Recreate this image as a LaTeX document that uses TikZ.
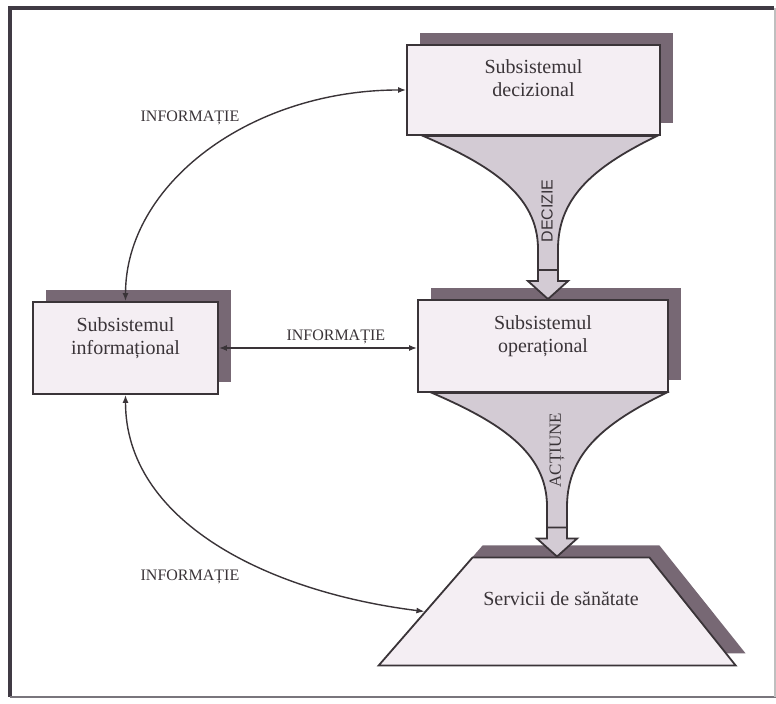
\documentclass[tikz,border=0pt]{standalone}
\usepackage{fontspec}
\setmainfont{Liberation Serif}
\newfontfamily\arialfont{Liberation Sans}
\usetikzlibrary{shapes.geometric,shadows,arrows.meta,calc}
\definecolor{boxcol}{HTML}{F4EEF3}
\definecolor{shadowcol}{HTML}{776874}
\definecolor{funnelcol}{HTML}{D3CBD4}
\definecolor{linecol}{HTML}{3A3438}
\definecolor{framecol}{HTML}{403A44}

\begin{document}
\begin{tikzpicture}[x=.5pt,y=.5pt,
    subsys/.style={draw=linecol,line width=.9pt,fill=boxcol,align=center,
      font=\fontsize{10}{11.5}\selectfont,text=linecol,
      text height=20pt,text depth=13.5pt,
      general shadow={fill=shadowcol,shadow xshift=6.5pt,shadow yshift=6pt}},
    info/.style={font=\fontsize{8}{9}\selectfont,text=linecol},
    conn/.style={draw=linecol,line width=.7pt,
      {Latex[length=4pt,width=3pt]}-{Latex[length=4pt,width=3pt]}},
    funnel/.style={draw=linecol,line width=.9pt,fill=funnelcol,to path={
      let \p1=(\tikztostart), \p2=(\tikztotarget) in
      (\x2-62.5pt,\y1) .. controls (\x2-29pt,\y1-14.5pt) and (\x2-5pt,\y1-29.5pt)
      .. (\x2-5pt,\y2+25pt) -- (\x2-5pt,\y2+9pt) -- (\x2-10pt,\y2+9pt) -- (\x2,\y2)
      -- (\x2+10pt,\y2+9pt) -- (\x2+5pt,\y2+9pt) -- (\x2+5pt,\y2+25pt)
      .. controls (\x2+5pt,\y1-29.5pt) and (\x2+25pt,\y1-14.5pt) .. (\x2+54.5pt,\y1) -- cycle
      (\x2-5pt,\y2+14.5pt) -- (\x2+5pt,\y2+14.5pt)}}]
  \useasboundingbox (0,0) rectangle (776,704);
  % frame
  \draw[line width=1.75pt,framecol] (774,696) -- (10,696) -- (10,7);
  \draw[line width=1pt,framecol!70] (10,7) -- (776,7);
  \draw[line width=.6pt,black!25] (775,696) -- (775,7);

  % the three subsystems and the services
  \node[subsys,minimum width=126.5pt,minimum height=45pt] (dec) at (533.5,614)
    {Subsistemul\\decizional};
  \node[subsys,minimum width=125pt,minimum height=46pt] (op) at (543,358)
    {Subsistemul\\operațional};
  \node[subsys,minimum width=92.5pt,minimum height=46pt] (inf) at (125.5,356)
    {Subsistemul\\informațional};
  \node[trapezium,trapezium left angle=49,trapezium right angle=51.4,
    trapezium stretches body,minimum width=178.5pt,inner ysep=17pt,
    draw=linecol,line width=.9pt,fill=boxcol,text=linecol,
    font=\fontsize{10}{11.5}\selectfont,text height=7pt,text depth=13pt,
    general shadow={fill=shadowcol,shadow xshift=5pt,shadow yshift=6pt}]
    (serv) at (561,92.5) {Servicii de sănătate};

  % decision and action flows
  \draw[funnel] (dec.south) to ([xshift=2.5pt]op.north);
  \draw[funnel] (op.south) to ([xshift=-2pt]serv.north);
  \node[rotate=90,font=\arialfont\fontsize{8}{9}\selectfont,text=linecol]
    (decizie) at (547,493) {DECIZIE};
  \node[rotate=90,font=\fontsize{8.5}{9}\selectfont,text=linecol]
    (actiune) at (557,254) {ACȚIUNE};

  % information flows
  \draw[conn] (inf.north) .. controls +(0,117) and +(-156,0) .. (dec.west);
  \draw[conn] (inf.east) -- (inf.east -| op.west)
    node[info,pos=.59,above,inner sep=1.5pt] (infomid) {INFORMAȚIE};
  \draw[conn] (inf.south) .. controls +(0,-125) and +(-160,20) .. (serv.west);
  \node[info] (infotop) at (190,586) {INFORMAȚIE};
  \node[info] (infobot) at (190,127) {INFORMAȚIE};
\end{tikzpicture}
\end{document}
